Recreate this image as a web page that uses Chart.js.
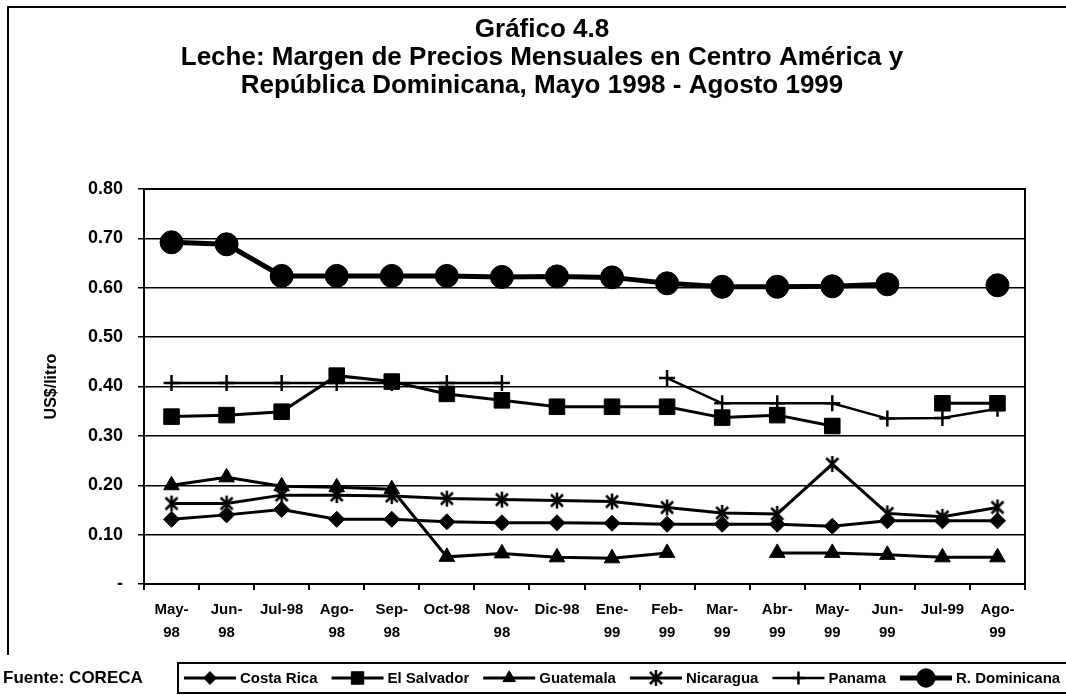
<!DOCTYPE html>
<html>
<head>
<meta charset="utf-8">
<title>Gráfico 4.8</title>
<script src="https://cdn.jsdelivr.net/npm/chart.js@4/dist/chart.umd.min.js"></script>
<style>
  html, body { margin: 0; padding: 0; background: #fff; }
  #wrap { width: 1066px; height: 695px; position: relative; }
</style>
</head>
<body>
<div id="wrap"><canvas id="myChart"></canvas></div>
<script>
// chart data
let months = ["May-98", "Jun-98", "Jul-98", "Ago-98", "Sep-98", "Oct-98", "Nov-98", "Dic-98",
              "Ene-99", "Feb-99", "Mar-99", "Abr-99", "May-99", "Jun-99", "Jul-99", "Ago-99"];
let xTickLabels = [["May-", "98"], ["Jun-", "98"], ["Jul-98"], ["Ago-", "98"], ["Sep-", "98"], ["Oct-98"],
                   ["Nov-", "98"], ["Dic-98"], ["Ene-", "99"], ["Feb-", "99"], ["Mar-", "99"], ["Abr-", "99"],
                   ["May-", "99"], ["Jun-", "99"], ["Jul-99"], ["Ago-", "99"]];
let yTickLabels = ["-", "0.10", "0.20", "0.30", "0.40", "0.50", "0.60", "0.70", "0.80"];

let seriesNames = ["Costa Rica", "El Salvador", "Guatemala", "Nicaragua", "Panama", "R. Dominicana"];
let costaRica   = [0.131, 0.140, 0.151, 0.131, 0.131, 0.126, 0.124, 0.124, 0.123, 0.121, 0.121, 0.121, 0.117, 0.128, 0.128, 0.128];
let elSalvador  = [0.339, 0.342, 0.349, 0.422, 0.410, 0.385, 0.372, 0.359, 0.359, 0.359, 0.337, 0.342, 0.320, null, 0.366, 0.366];
let guatemala   = [0.200, 0.216, 0.198, 0.196, 0.192, 0.055, 0.062, 0.054, 0.052, 0.063, null, 0.063, 0.063, 0.059, 0.054, 0.054];
let nicaragua   = [0.163, 0.163, 0.180, 0.180, 0.178, 0.173, 0.171, 0.169, 0.167, 0.155, 0.144, 0.142, 0.243, 0.143, 0.136, 0.155];
let panama      = [0.407, 0.407, 0.407, 0.407, 0.407, 0.407, 0.407, null, null, 0.417, 0.366, 0.366, 0.366, 0.335, 0.336, 0.355];
let rDominicana = [0.692, 0.688, 0.624, 0.624, 0.624, 0.624, 0.622, 0.623, 0.621, 0.609, 0.602, 0.602, 0.603, 0.607, null, 0.605];

let titleLines = ["Gráfico 4.8",
                  "Leche: Margen de Precios Mensuales en Centro América y",
                  "República Dominicana, Mayo 1998 - Agosto 1999"];
let sourceText = "Fuente: CORECA";

let FONT = "'Liberation Sans', Arial, Helvetica, sans-serif";

// asterisk marker (X plus a vertical bar) like the Excel "star"
function make_star() {
    let cv = document.createElement("canvas");
    cv.width = 18;
    cv.height = 18;
    let g = cv.getContext("2d");
    g.strokeStyle = "#000";
    g.lineWidth = 2.5;
    g.beginPath();
    g.moveTo(3, 3); g.lineTo(15, 15);
    g.moveTo(15, 3); g.lineTo(3, 15);
    g.moveTo(9, 1); g.lineTo(9, 17);
    g.stroke();
    return cv;
}
let starMark = make_star();

// one line dataset, all black
function series(name, data, style, radius, width) {
    return {
        label: name,
        data: data,
        borderColor: "#000",
        backgroundColor: "#000",
        pointBackgroundColor: "#000",
        pointBorderColor: "#000",
        pointStyle: style,
        pointRadius: radius,
        pointHoverRadius: radius,
        pointBorderWidth: style === "cross" ? 2.5 : 1,
        borderWidth: width,
        spanGaps: false,
        tension: 0,
    };
}

// frame, title, source note and legend drawn on the canvas
let decorPlugin = {
    id: "decor",
    afterDraw(chart) {
        let ctx = chart.ctx;
        let a = chart.chartArea;
        ctx.save();
        ctx.strokeStyle = "#000";
        ctx.fillStyle = "#000";

        // outer frame of the page
        ctx.lineWidth = 2;
        ctx.beginPath();
        ctx.moveTo(8, 655);
        ctx.lineTo(8, 7);
        ctx.lineTo(1066, 7);
        ctx.stroke();

        // plot area box
        ctx.lineWidth = 2;
        ctx.strokeRect(a.left, a.top, a.right - a.left, a.bottom - a.top);

        // title
        ctx.font = "bold 26px " + FONT;
        ctx.textAlign = "center";
        ctx.textBaseline = "middle";
        let ty = [30, 58, 86];
        for (let i = 0; i < titleLines.length; i++) {
            ctx.fillText(titleLines[i], 542, ty[i]);
        }

        // source note
        ctx.font = "bold 17px " + FONT;
        ctx.textAlign = "left";
        ctx.fillText(sourceText, 3, 678);

        // legend box
        ctx.lineWidth = 2;
        ctx.beginPath();
        ctx.moveTo(1070, 663);
        ctx.lineTo(178, 663);
        ctx.lineTo(178, 693);
        ctx.lineTo(1070, 693);
        ctx.stroke();

        // legend entries
        ctx.font = "bold 15px " + FONT;
        let x = 184;
        let y = 678;
        chart.data.datasets.forEach(function (ds) {
            ctx.lineWidth = ds.borderWidth;
            ctx.beginPath();
            ctx.moveTo(x, y);
            ctx.lineTo(x + 52, y);
            ctx.stroke();
            ctx.lineWidth = ds.pointBorderWidth;
            Chart.helpers.drawPoint(ctx, {
                pointStyle: ds.pointStyle,
                radius: ds.pointRadius * 0.8,
                borderWidth: ds.pointBorderWidth,
                rotation: 0,
            }, x + 26, y);
            ctx.fillText(ds.label, x + 56, y + 1);
            x += 56 + ctx.measureText(ds.label).width + 14;
        });
        ctx.restore();
    }
};

let ChartInst;

function new_chart() {
    let Ctxt = document.getElementById("myChart").getContext("2d");
    ChartInst = new Chart(Ctxt, {
        type: "line",
        data: {
            labels: months,
            datasets: [
                series(seriesNames[0], costaRica, "rectRot", 8, 3),
                series(seriesNames[1], elSalvador, "rect", 11, 3),
                series(seriesNames[2], guatemala, "triangle", 9, 3),
                series(seriesNames[3], nicaragua, starMark, 9, 3),
                series(seriesNames[4], panama, "cross", 8, 2.5),
                series(seriesNames[5], rDominicana, "circle", 11.5, 5),
            ],
        },
        options: {
            animation: false,
            responsive: true,
            maintainAspectRatio: false,
            layout: { padding: { left: 30, right: 41, top: 189, bottom: 41 } },
            plugins: {
                legend: { display: false },
                title: { display: false },
                tooltip: { enabled: false },
            },
            scales: {
                x: {
                    type: "category",
                    offset: true,
                    grid: { offset: true, drawOnChartArea: false, drawTicks: true, tickLength: 6, color: "#000", lineWidth: 2 },
                    border: { display: true, color: "#000", width: 2 },
                    ticks: {
                        autoSkip: false,
                        maxRotation: 0,
                        minRotation: 0,
                        padding: 8,
                        color: "#000",
                        font: { family: FONT, size: 15, weight: "bold", lineHeight: 23 / 15 },
                        callback: (v, i) => xTickLabels[i],
                    },
                    afterFit: (s) => { s.height = 70; },
                },
                y: {
                    min: 0,
                    max: 0.8,
                    grid: { color: "#000", lineWidth: 1.5, tickLength: 6 },
                    border: { display: true, color: "#000", width: 2 },
                    ticks: {
                        stepSize: 0.1,
                        padding: 15,
                        color: "#000",
                        font: { family: FONT, size: 18, weight: "bold" },
                        callback: (v, i) => yTickLabels[i],
                    },
                    title: {
                        display: true,
                        text: "US$/litro",
                        color: "#000",
                        font: { family: FONT, size: 16, weight: "bold" },
                        padding: { top: 12, bottom: 0 },
                    },
                    afterFit: (s) => { s.width = 114; },
                },
            },
        },
        plugins: [decorPlugin],
    });
}

window.addEventListener("load", new_chart);
</script>
</body>
</html>
